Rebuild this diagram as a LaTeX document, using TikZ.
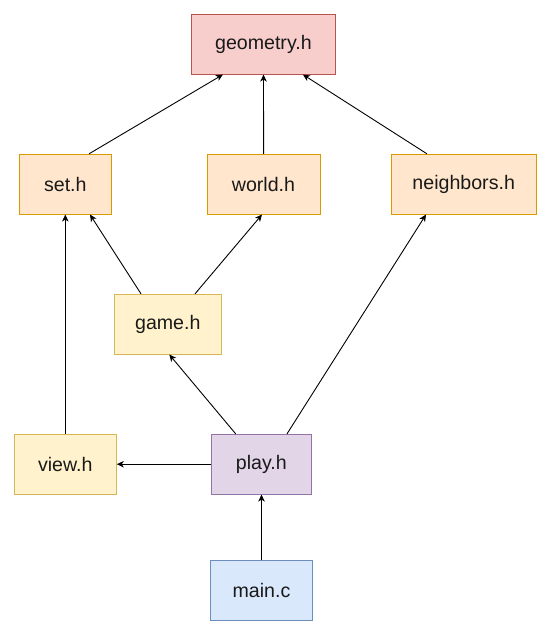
\documentclass[tikz,border=0pt]{standalone}
\usepackage{fontspec}
\setmainfont{Liberation Sans}
\usetikzlibrary{arrows.meta}
\definecolor{redfill}{HTML}{F8CECC}\definecolor{reddraw}{HTML}{B85450}
\definecolor{orfill}{HTML}{FFE6CC}\definecolor{ordraw}{HTML}{D79B00}
\definecolor{yefill}{HTML}{FFF2CC}\definecolor{yedraw}{HTML}{D6B656}
\definecolor{pufill}{HTML}{E1D5E7}\definecolor{pudraw}{HTML}{9673A6}
\definecolor{blfill}{HTML}{DAE8FC}\definecolor{bldraw}{HTML}{6C8EBF}
\begin{document}
\begin{tikzpicture}[x=1pt,y=-1pt,
  box/.style={rectangle,line width=1pt,inner sep=0pt,minimum height=59.7pt,
    font=\fontsize{19.6}{23}\selectfont,text=black!90},
  redbox/.style={box,fill=redfill,draw=reddraw},
  orbox/.style={box,fill=orfill,draw=ordraw},
  yebox/.style={box,fill=yefill,draw=yedraw},
  pubox/.style={box,fill=pufill,draw=pudraw},
  blbox/.style={box,fill=blfill,draw=bldraw},
  conn/.style={line width=0.9pt,-{Stealth[length=7pt,width=6.5pt,inset=2pt]}}]
\useasboundingbox (0,0) rectangle (553,642);
\node[redbox,minimum width=144.5pt] (geo) at (263.4,44.2) {geometry.h};
\node[orbox,minimum width=92pt] (set) at (65.3,184.2) {set.h};
\node[orbox,minimum width=113pt] (world) at (263.5,184.2) {world.h};
\node[orbox,minimum width=144.7pt] (nb) at (463.7,184.2) {neighbors.h};
\node[yebox,minimum width=107pt] (game) at (167.8,324.2) {game.h};
\node[yebox,minimum width=102pt] (view) at (65.3,464.2) {view.h};
\node[pubox,minimum width=100pt] (play) at (261.3,464.2) {play.h};
\node[blbox,minimum width=101.6pt] (main) at (261.5,590.2) {main.c};
\draw[conn] ([xshift=23.7pt]set.north) -- ([xshift=-40.5pt]geo.south);
\draw[conn] ([xshift=0.1pt]world.north) -- ([xshift=0.1pt]geo.south);
\draw[conn] ([xshift=-36.7pt]nb.north) -- ([xshift=39.5pt]geo.south);
\draw[conn] ([xshift=-26.8pt]game.north) -- ([xshift=24.7pt]set.south);
\draw[conn] ([xshift=27.2pt]game.north) -- ([xshift=-1.5pt]world.south);
\draw[conn] (view.north) -- (set.south);
\draw[conn] ([xshift=-25.6pt]play.north) -- ([xshift=1.5pt]game.south);
\draw[conn] ([xshift=25.7pt]play.north) -- ([xshift=-37.7pt]nb.south);
\draw[conn] (play.west) -- (view.east);
\draw[conn] (main.north) -- ([xshift=0.2pt]play.south);
\end{tikzpicture}
\end{document}
